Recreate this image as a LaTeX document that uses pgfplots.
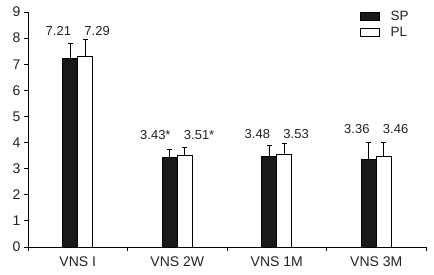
\documentclass[border=0pt]{standalone}
\usepackage{pgfplots}
\pgfplotsset{compat=1.18}
\usepackage{fontspec}
\setmainfont{Liberation Sans}
\definecolor{txt}{HTML}{222222}
\begin{document}
\begin{tikzpicture}
\path[use as bounding box] (-28pt,-27pt) rectangle (406pt,247pt);
\begin{axis}[
  at={(0,0)}, anchor=south west,
  scale only axis, width=398pt, height=235pt,
  xmin=-0.5, xmax=3.5, ymin=0, ymax=9,
  ybar=0pt, bar width=15pt,
  axis lines*=left,
  axis line style={line width=0.8pt, black},
  every tick/.style={line width=0.8pt, black},
  tick align=outside,
  xtick={0,1,2,3},
  xticklabels={VNS I, VNS 2W, VNS 1M, VNS 3M},
  major x tick style={draw=none},
  minor xtick={-0.5,0.5,1.5,2.5,3.5},
  minor tick length=4pt,
  major tick length=4pt,
  ytick={0,1,...,9},
  /pgf/number format/assume math mode=true,
  tick label style={font=\fontsize{14}{16}\selectfont, text=txt},
  xticklabel style={yshift=-2pt},
  clip=false,
  legend style={draw=none, fill=none, inner sep=0pt, row sep=4pt, column sep=9pt,
    at={(axis cs:2.837,9.07)}, anchor=north west,
    nodes={inner sep=1.5pt, text height=9pt, text depth=0pt, font=\fontsize{13.5}{15}\selectfont, text=txt}},
  legend cell align=left,
  legend image code/.code={\draw[#1, line width=0.8pt] (0pt,-4.35pt) rectangle (19pt,4.35pt);},
]
\addplot[fill=black!90, draw=black, line width=0.8pt,
  error bars/.cd, y dir=plus, y explicit, error bar style={line width=0.8pt, black},
  error mark options={rotate=90, mark size=2.5pt, line width=0.8pt, black}]
  table[x=x, y=y, y error=e] {
x y e
0 7.21 0.59
1 3.43 0.31
2 3.48 0.40
3 3.36 0.65
};
\addlegendentry{SP}
\addplot[fill=white, draw=black, line width=0.8pt,
  error bars/.cd, y dir=plus, y explicit, error bar style={line width=0.8pt, black},
  error mark options={rotate=90, mark size=2.5pt, line width=0.8pt, black}]
  table[x=x, y=y, y error=e] {
x y e
0 7.29 0.66
1 3.51 0.32
2 3.53 0.42
3 3.46 0.55
};
\addlegendentry{PL}
\begin{scope}[every node/.style={font=\fontsize{13}{15}\selectfont, text=txt, inner sep=0pt}]
\node[anchor=east] at ([xshift=-6.5pt]axis cs:0,8.29) {7.21};
\node[anchor=west] at ([xshift=6.5pt]axis cs:0,8.29) {7.29};
\node[anchor=east] at ([xshift=-6.5pt]axis cs:1,4.30) {3.43*};
\node[anchor=west] at ([xshift=6.5pt]axis cs:1,4.30) {3.51*};
\node[anchor=east] at ([xshift=-6.5pt]axis cs:2,4.32) {3.48};
\node[anchor=west] at ([xshift=6.5pt]axis cs:2,4.32) {3.53};
\node[anchor=east] at ([xshift=-6.5pt]axis cs:3,4.51) {3.36};
\node[anchor=west] at ([xshift=6.5pt]axis cs:3,4.51) {3.46};
\end{scope}
\end{axis}
\end{tikzpicture}
\end{document}
